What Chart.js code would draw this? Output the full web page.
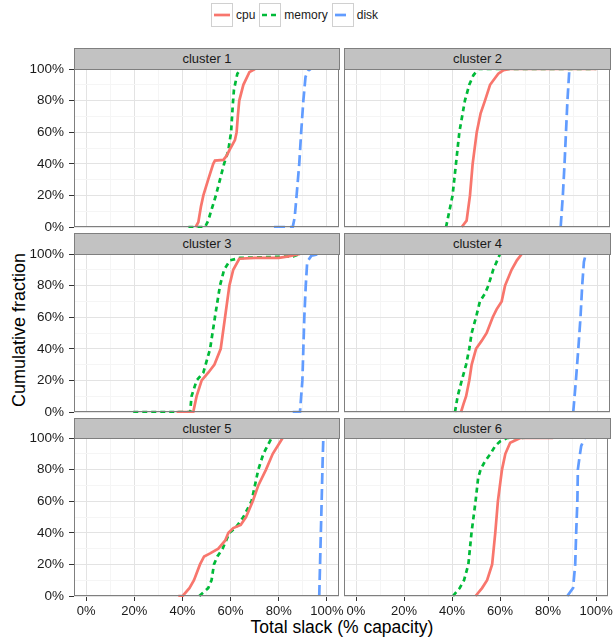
<!DOCTYPE html>
<html><head><meta charset="utf-8">
<script src="https://cdn.jsdelivr.net/npm/chart.js@4.4.0/dist/chart.umd.min.js"></script>
<style>
body{margin:0;background:#fff;width:616px;height:642px;position:relative;overflow:hidden;font-family:"Liberation Sans",Arial,sans-serif;}
canvas{position:absolute;}
.strip{position:absolute;background:#c2c2c2;border:1px solid #7f7f7f;box-sizing:border-box;text-align:center;font-size:13px;color:#1a1a1a;z-index:2;}
.ytitle{position:absolute;left:19px;top:330px;transform:translate(-50%,-50%) rotate(-90deg);font-size:18px;color:#000;white-space:nowrap;}
.xtitle{position:absolute;left:342px;top:627px;transform:translate(-50%,-50%);font-size:17.5px;color:#000;white-space:nowrap;}
.legend{position:absolute;top:3px;left:211px;height:24px;display:flex;align-items:center;font-size:12px;color:#1a1a1a;}
.key{width:22px;height:24px;box-sizing:border-box;border:1px solid #d0d0d0;margin-right:3px;}
.lab{margin-right:4px;}
</style></head><body>
<div class="legend" id="legend"></div>
<div class="ytitle">Cumulative fraction</div>
<div class="xtitle">Total slack (% capacity)</div>
<script>
// ---------- data (x = % capacity, y = cumulative %) ----------
const seriesNames = ['cpu','memory','disk'];
const panelTitles = ['cluster 1','cluster 2','cluster 3','cluster 4','cluster 5','cluster 6'];
const majorTicks = [0,20,40,60,80,100];
const minorTicks = [10,30,50,70,90];

const cluster1Cpu = [[45.5,0],[46.6,3],[47.7,13],[48.7,20],[50.7,30],[52.8,40],[53.5,42],[57,42.5],[58.3,45],[60,50],[61.8,55],[62.5,60],[63,70],[63.6,80],[65.3,90],[67.8,98],[70.1,100]];
const cluster1Mem = [[42.5,0],[49.4,0],[50.7,4],[53.9,20],[55.6,30],[57.3,40],[59,48],[60.2,60],[60.9,77],[61.4,87],[62.8,97],[64.2,100]];
const cluster1Disk = [[78,0],[85.8,0],[86.6,6],[87.4,20],[88.5,40],[89.3,60],[90.2,80],[91.1,95],[92.2,99],[93.2,100]];

const cluster2Cpu = [[43.7,0],[45.7,4],[47.1,20],[48.2,40],[49.9,60],[51.5,72],[53.3,80],[55.4,90],[58.8,97],[61,99.3],[63.6,100],[99.5,100]];
const cluster2Mem = [[37.2,0],[39.9,20],[41.3,40],[42.7,60],[45,80],[46.8,90],[48.5,96],[50.6,100],[99,100]];
const cluster2Disk = [[84.6,0],[85.5,20],[86.2,40],[86.8,60],[87.4,80],[88.2,100],[89,100]];

const cluster3Cpu = [[37.6,0],[44.5,0],[45.9,10],[48,20],[50.8,25],[53.3,30],[55.9,40],[57.7,60],[59.5,80],[61.1,90],[63.6,97],[70,97.5],[80,97.6],[84,98.5],[88.8,100]];
const cluster3Mem = [[19.6,0],[43.2,0],[43.8,10],[45.9,20],[48.7,25],[51.5,40],[53.5,60],[55.6,80],[57.3,90],[59.8,96],[63.9,97.5],[75,98],[86,98.5],[88.8,100]];
const cluster3Disk = [[85.8,0],[88.8,0],[89.8,20],[90.2,40],[90.6,60],[91.2,80],[91.8,95],[93.6,99],[97.1,100]];

const cluster4Cpu = [[43.4,0],[44.4,5],[45.5,10],[46.8,20],[47.8,30],[49.6,40],[51.9,45],[54,50],[56.5,60],[58.1,65],[60.2,70],[61.6,80],[64.3,90],[66.5,96],[68.5,100]];
const cluster4Mem = [[40.9,0],[42,10],[43.7,20],[45.5,30],[46.8,40],[47.8,50],[49.6,60],[51.2,70],[53.3,75],[54.7,80],[56.7,90],[59.5,100]];
const cluster4Disk = [[89.8,0],[90.9,20],[91.9,40],[92.8,60],[93.5,80],[94.2,95],[95,100]];

const cluster5Cpu = [[38.3,0],[40.1,0],[42.9,5],[44.8,10],[47.3,20],[49,25],[51.5,27],[54.9,30],[57.7,35],[59.1,40],[61.1,43],[64.2,45],[66.4,50],[69.2,60],[71.5,70],[74.7,80],[77.5,90],[81.6,100]];
const cluster5Mem = [[47,0],[50.7,5],[52.1,10],[53.1,20],[54.5,25],[56.7,30],[59.5,40],[62,43],[65.3,50],[68.7,60],[70.1,70],[71.5,80],[73.6,90],[77,100]];
const cluster5Disk = [[96.8,0],[97.3,30],[97.8,60],[98.2,85],[98.5,100]];

const cluster6Cpu = [[49.8,0],[52.5,5],[54.6,10],[56.7,20],[58,40],[59.1,60],[60.8,80],[62.2,90],[64.2,97],[68.4,100],[82.1,100]];
const cluster6Mem = [[40.4,0],[43.2,5],[45,10],[46.8,20],[48.1,40],[49.8,60],[50.9,75],[51.9,80],[53.6,85],[56,90],[58,95],[60.1,98],[62.9,100],[69.7,100]];
const cluster6Disk = [[88,0],[90.4,5],[91.3,20],[91.7,40],[92.2,60],[92.4,80],[93.1,88],[93.8,95],[95.2,100]];

const panelData = [
  [cluster1Cpu, cluster1Mem, cluster1Disk],
  [cluster2Cpu, cluster2Mem, cluster2Disk],
  [cluster3Cpu, cluster3Mem, cluster3Disk],
  [cluster4Cpu, cluster4Mem, cluster4Disk],
  [cluster5Cpu, cluster5Mem, cluster5Disk],
  [cluster6Cpu, cluster6Mem, cluster6Disk]
];

// ---------- styles ----------
const seriesColors = ['#F8766D','#00BA38','#619CFF'];
const seriesDash = [[], [5,4], [11,5]];
const lineW = 2.7;

// ---------- layout ----------
const colLeft = [74, 344], colRight = [339, 610];
const rowTop = [69, 254, 438], rowBottom = [227, 412, 596];
const stripTop = [48, 233, 418];
const FONT = '"Liberation Sans", Arial, sans-serif';

// legend
const legend = document.getElementById('legend');
seriesNames.forEach((n,i)=>{
  const k = document.createElement('div'); k.className='key';
  k.innerHTML = '<svg width="20" height="22"><line x1="2" y1="11" x2="18" y2="11" stroke="'+seriesColors[i]+'" stroke-width="'+lineW+'" stroke-dasharray="'+(seriesDash[i].length?seriesDash[i].join(','):'none')+'"/></svg>';
  legend.appendChild(k);
  const l = document.createElement('span'); l.className='lab'; l.textContent=n; legend.appendChild(l);
});

const borderPlugin = {
  id:'panelBorder',
  afterDraw(chart){
    const a = chart.chartArea, ctx = chart.ctx;
    ctx.save(); ctx.strokeStyle='#7f7f7f'; ctx.lineWidth=1;
    ctx.strokeRect(Math.round(a.left)+0.5, Math.round(a.top)+0.5, Math.round(a.right-a.left)-1, Math.round(a.bottom-a.top)-1);
    ctx.restore();
  }
};

function isMajor(v){ return majorTicks.indexOf(v) >= 0; }
const allTicks = majorTicks.concat(minorTicks).sort((a,b)=>a-b);

for (let p = 0; p < 6; p++) {
  const c = p % 2, r = Math.floor(p / 2);
  const showY = c === 0, showX = r === 2;
  // strip
  const s = document.createElement('div'); s.className='strip';
  s.style.left = colLeft[c]+'px'; s.style.width = (colRight[c]-colLeft[c]+1)+'px';
  s.style.top = stripTop[r]+'px'; s.style.height = (rowTop[r]-stripTop[r]+1)+'px';
  s.style.lineHeight = (rowTop[r]-stripTop[r]-1)+'px';
  s.textContent = panelTitles[p];
  document.body.appendChild(s);

  const cvLeft = c === 0 ? 0 : 338;
  const cvWidth = c === 0 ? 360 : 616 - 338;
  const padTop = 14;
  const xH = showX ? 30 : 3;
  const padBottom = showX ? 0 : 11;
  const cvTop = rowTop[r] - padTop;
  const cvHeight = padTop + (rowBottom[r]-rowTop[r]) + xH + padBottom;
  const yW = colLeft[c] - cvLeft;
  const padRight = cvLeft + cvWidth - colRight[c];

  const cv = document.createElement('canvas');
  cv.width = cvWidth; cv.height = cvHeight;
  cv.style.left = cvLeft+'px'; cv.style.top = cvTop+'px';
  cv.style.width = cvWidth+'px'; cv.style.height = cvHeight+'px';
  document.body.appendChild(cv);

  const gridOpts = (show) => ({
    color: ctx => (ctx.tick && isMajor(ctx.tick.value)) ? '#e3e3e3' : '#f5f5f5',
    lineWidth: 1,
    drawTicks: show,
    tickLength: 5,
    tickColor: ctx => (ctx.tick && isMajor(ctx.tick.value)) ? '#333333' : 'rgba(0,0,0,0)',
    tickWidth: 1
  });

  new Chart(cv, {
    type: 'scatter',
    data: {
      datasets: panelData[p].map((pts, i) => ({
        label: seriesNames[i],
        data: pts.map(q => ({x: q[0], y: q[1]})),
        showLine: true,
        borderColor: seriesColors[i],
        backgroundColor: seriesColors[i],
        borderWidth: lineW,
        borderDash: seriesDash[i],
        pointRadius: 0,
        pointHoverRadius: 0,
        tension: 0,
        clip: {left: 0, right: 0, top: 1, bottom: 1}
      }))
    },
    options: {
      responsive: false,
      animation: false,
      devicePixelRatio: 1,
      events: [],
      layout: {padding: {top: padTop, right: padRight, bottom: padBottom, left: 0}},
      plugins: {legend: {display: false}, tooltip: {enabled: false}},
      scales: {
        x: {
          type: 'linear', min: -5, max: 105,
          afterBuildTicks: sc => { sc.ticks = allTicks.map(v => ({value: v})); },
          afterFit: sc => { sc.height = xH; },
          grid: gridOpts(showX),
          border: {display: false},
          ticks: {
            display: showX, autoSkip: false, maxRotation: 0, padding: 3,
            color: '#1a1a1a', font: {family: FONT, size: 13},
            callback: v => isMajor(v) ? v + '%' : ''
          }
        },
        y: {
          type: 'linear', min: 0, max: 100,
          afterBuildTicks: sc => { sc.ticks = allTicks.map(v => ({value: v})); },
          afterFit: sc => { sc.width = yW; },
          grid: gridOpts(showY),
          border: {display: false},
          ticks: {
            display: showY, autoSkip: false, padding: 5,
            color: '#1a1a1a', font: {family: FONT, size: 13.5},
            callback: v => isMajor(v) ? v + '%' : ''
          }
        }
      }
    },
    plugins: [borderPlugin]
  });
}
</script>
</body></html>
